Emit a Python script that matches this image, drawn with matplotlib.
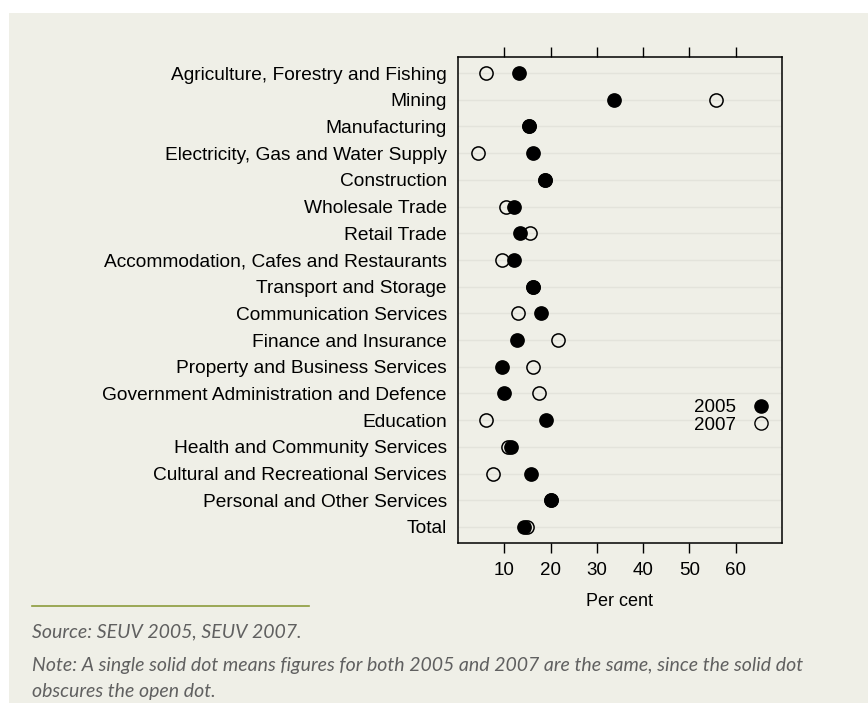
import matplotlib.pyplot as plt
from matplotlib.lines import Line2D
from matplotlib.patches import Rectangle

industries = [
    "Agriculture, Forestry and Fishing",
    "Mining",
    "Manufacturing",
    "Electricity, Gas and Water Supply",
    "Construction",
    "Wholesale Trade",
    "Retail Trade",
    "Accommodation, Cafes and Restaurants",
    "Transport and Storage",
    "Communication Services",
    "Finance and Insurance",
    "Property and Business Services",
    "Government Administration and Defence",
    "Education",
    "Health and Community Services",
    "Cultural and Recreational Services",
    "Personal and Other Services",
    "Total",
]
pct_2005 = [13.2, 33.8, 15.4, 16.2, 18.9, 12.1, 13.3, 12.0, 16.2, 17.9,
            12.8, 9.5, 10.0, 19.1, 11.4, 15.8, 20.2, 14.2]
pct_2007 = [6.0, 55.8, 15.4, 4.4, 18.9, 10.4, 15.6, 9.4, 16.2, 12.9,
            21.6, 16.1, 17.6, 6.0, 10.9, 7.6, 20.2, 14.9]
x_ticks = [10, 20, 30, 40, 50, 60]

bg = "#efefe7"
W, H = 868, 714

fig = plt.figure(figsize=(W / 100, H / 100), dpi=100, facecolor="white")
# beige panel behind everything
fig.patches.append(Rectangle((9 / W, 1 - 703 / H), 1 - 9 / W, (703 - 13) / H,
                             transform=fig.transFigure, facecolor=bg,
                             edgecolor="none", zorder=-10))

ax = fig.add_axes([458 / W, 1 - 543 / H, (782 - 458) / W, (543 - 57) / H])
ax.set_facecolor(bg)

y = list(range(len(industries)))
for yy in y:
    ax.axhline(yy, color="#e3e3db", lw=1, zorder=0)

ax.plot(pct_2007, y, "o", ms=9.5, mfc="none", mec="black", mew=1.1, zorder=2)
ax.plot(pct_2005, y, "o", ms=9.5, mfc="black", mec="black", mew=1.1, zorder=3)

ax.set_xlim(0, 70)
ax.set_ylim(len(industries) - 0.4, -0.6)
ax.set_yticks(y)
ax.set_yticklabels(industries, fontsize=13.8, family="Liberation Sans")
ax.set_xticks(x_ticks)
ax.set_xticklabels([str(t) for t in x_ticks], fontsize=13.5, family="Liberation Sans")
ax.tick_params(axis="y", length=0, pad=8)
ax.tick_params(axis="x", direction="out", length=7, width=1, top=True,
               labeltop=False, pad=7)
for s in ax.spines.values():
    s.set_linewidth(1.1)
ax.set_xlabel("Per cent", fontsize=13, family="Liberation Sans", labelpad=10)

handles = [
    Line2D([], [], ls="none", marker="o", ms=9.5, mfc="black", mec="black"),
    Line2D([], [], ls="none", marker="o", ms=9.5, mfc="none", mec="black"),
]
ax.legend(handles, ["2005", "2007"], loc="center right",
          bbox_to_anchor=(0.963, 0.2605), frameon=False, markerfirst=False,
          handlelength=1, handletextpad=0.8, labelspacing=0.02,
          borderpad=0, borderaxespad=0,
          prop={"family": "Liberation Sans", "size": 13.5})

# green rule and notes
fig.add_artist(Line2D([32 / W, 309 / W], [1 - 606 / H, 1 - 606 / H],
                      transform=fig.transFigure, color="#8c9c3c", lw=1.2))
note_kw = dict(fontsize=14, family="Lato", style="italic", color="#606060",
               va="center", ha="left")
fig.text(32 / W, 1 - 632 / H, "Source: SEUV 2005, SEUV 2007.", **note_kw)
fig.text(32 / W, 1 - 665 / H,
         "Note: A single solid dot means figures for both 2005 and 2007 are the same, since the solid dot",
         **note_kw)
fig.text(32 / W, 1 - 692 / H, "obscures the open dot.", **note_kw)

fig.savefig("out.png", dpi=100, facecolor="white")
